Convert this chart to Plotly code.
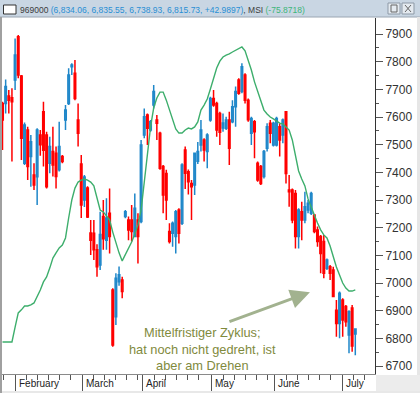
import plotly.graph_objects as go

# ---------------- data ----------------
opens = [7649, 7649, 7676, 7670, 7734, 7890, 7748, 7433, 7553, 7457,
         7390, 7384, 7535, 7619, 7535, 7433, 7475, 7469, 7409, 7457,
         7589, 7649, 7782, 7758, 7589, 7430, 7300, 7343, 7181, 7180,
         7120, 7065, 7240, 7155, 7252, 6975, 6878, 7005, 6969, 7240,
         7228, 7228, 7168, 7228, 7222, 7535, 7607, 7553, 7643, 7589,
         7541, 7421, 7396, 7186, 7180, 7168, 7264, 7216, 7481, 7402,
         7360, 7354, 7440, 7499, 7517, 7475, 7589, 7667, 7649, 7613,
         7560, 7559, 7589, 7583, 7637, 7734, 7692, 7752, 7661, 7541,
         7583, 7433, 7421, 7385, 7487, 7577, 7499, 7499, 7565, 7535,
         7619, 7336, 7336, 7324, 7168, 7258, 7228, 7264, 7252, 7246,
         7192, 7168, 7150, 7053, 7059, 7047, 6902, 6854, 6939, 6915,
         6812, 6910, 6834.06]
highs = [7655, 7736, 7698, 7704, 7884, 7896, 7752, 7580, 7565, 7535,
         7433, 7559, 7553, 7655, 7547, 7529, 7565, 7493, 7583, 7463,
         7643, 7776, 7794, 7806, 7649, 7463, 7390, 7350, 7228, 7228,
         7140, 7258, 7300, 7306, 7342, 6981, 7035, 7060, 7023, 7264,
         7240, 7282, 7324, 7252, 7517, 7631, 7613, 7589, 7716, 7607,
         7547, 7427, 7409, 7216, 7222, 7264, 7270, 7433, 7493, 7410,
         7372, 7469, 7510, 7589, 7523, 7541, 7673, 7698, 7655, 7619,
         7613, 7601, 7619, 7661, 7710, 7740, 7794, 7758, 7667, 7601,
         7589, 7439, 7427, 7481, 7577, 7589, 7583, 7601, 7577, 7595,
         7619, 7390, 7342, 7336, 7270, 7294, 7330, 7300, 7330, 7246,
         7204, 7174, 7174, 7089, 7065, 7059, 6939, 6969, 6945, 6921,
         6902, 6921, 6835.55]
lows = [7481, 7613, 7613, 7439, 7698, 7740, 7445, 7427, 7372, 7348,
        7336, 7282, 7460, 7421, 7342, 7397, 7385, 7342, 7403, 7433,
        7553, 7643, 7752, 7661, 7493, 7235, 7275, 7235, 7101, 7083,
        7023, 7047, 7120, 7120, 7107, 6770, 6848, 6990, 6945, 7234,
        7155, 7150, 7168, 7071, 7216, 7523, 7499, 7547, 7631, 7517,
        7409, 7252, 7228, 7143, 7131, 7107, 7143, 7210, 7340, 7320,
        7228, 7318, 7430, 7475, 7439, 7415, 7583, 7637, 7529, 7499,
        7547, 7553, 7427, 7577, 7565, 7680, 7686, 7649, 7583, 7499,
        7451, 7366, 7354, 7378, 7475, 7505, 7493, 7493, 7457, 7505,
        7360, 7276, 7216, 7125, 7125, 7155, 7216, 7252, 7246, 7180,
        7131, 7035, 7017, 7047, 7011, 6951, 6806, 6800, 6806, 6842,
        6746, 6752, 6738.93]
closes = [7589, 7710, 7661, 7655, 7824, 7752, 7523, 7571, 7421, 7511,
          7354, 7553, 7500, 7480, 7348, 7493, 7427, 7385, 7493, 7439,
          7625, 7752, 7788, 7667, 7541, 7282, 7383, 7239, 7155, 7120,
          7059, 7175, 7160, 7235, 7168, 6776, 7017, 7030, 7011, 7258,
          7192, 7186, 7270, 7168, 7499, 7601, 7559, 7583, 7692, 7577,
          7415, 7318, 7300, 7150, 7216, 7258, 7180, 7427, 7397, 7366,
          7348, 7469, 7475, 7553, 7481, 7535, 7667, 7643, 7553, 7545,
          7578, 7589, 7487, 7637, 7692, 7686, 7782, 7661, 7590, 7595,
          7547, 7372, 7360, 7475, 7565, 7541, 7577, 7595, 7517, 7589,
          7396, 7330, 7228, 7168, 7264, 7228, 7276, 7288, 7324, 7186,
          7150, 7107, 7035, 7083, 7035, 6951, 6854, 6963, 6866, 6860,
          6896, 6772.7403, 6815.73]
cycle = [6787, 6787, 6787, 6787, 6841, 6892, 6903, 6917, 6917, 6921,
         6928, 6950, 6975, 7004, 7022, 7054, 7090, 7109, 7127, 7137,
         7163, 7235, 7300, 7343, 7365, 7372, 7376, 7372, 7365, 7351,
         7307, 7264, 7257, 7242, 7228, 7184, 7145, 7109, 7080, 7101,
         7123, 7148, 7177, 7210, 7264, 7365, 7481, 7564, 7633, 7669,
         7690, 7690, 7661, 7629, 7589, 7557, 7542, 7542, 7553, 7560,
         7557, 7564, 7582, 7625, 7643, 7665, 7701, 7741, 7777, 7802,
         7817, 7824, 7828, 7835, 7842, 7849, 7853, 7839, 7806, 7770,
         7727, 7690, 7654, 7625, 7611, 7600, 7593, 7586, 7578, 7575,
         7564, 7553, 7517, 7459, 7405, 7376, 7351, 7304, 7271, 7246,
         7217, 7192, 7174, 7163, 7134, 7094, 7058, 7029, 7000, 6982,
         6971, 6971, 6975]
msi_value = -75.8718
symbol = "969000"

month_labels = ["February", "March", "April", "May", "June", "July"]
month_pos = [3.97, 25.24, 44.6, 66.5, 86.5, 107.8]
y_ticks = [6700, 6800, 6900, 7000, 7100, 7200, 7300, 7400, 7500, 7600, 7700, 7800, 7900]

note_text = "Mittelfristiger Zyklus;<br>hat noch nicht gedreht, ist<br>aber am Drehen"

# ---------------- layout geometry ----------------
W, H = 420, 393
ML, MR, MT, MB = 2, 45, 18, 19
PW, PH = W - ML - MR, H - MT - MB


def px(xp):
    return (xp - ML) / PW


def py(yp):
    return (H - MB - yp) / PH


idx = list(range(len(closes)))
prev = [opens[0]] + closes[:-1]
up = [c >= p for c, p in zip(closes, prev)]

BLUE = "#1f87c9"
RED = "#ff0000"

fig = go.Figure()
for flag, col, hollow in [(True, BLUE, "#9fd0f2"), (False, RED, "#ffffff")]:
    sel = [i for i in idx if up[i] == flag]
    fig.add_trace(go.Candlestick(
        x=sel,
        open=[opens[i] for i in sel], high=[highs[i] for i in sel],
        low=[lows[i] for i in sel], close=[closes[i] for i in sel],
        increasing=dict(line=dict(color=col, width=1.5), fillcolor=hollow),
        decreasing=dict(line=dict(color=col, width=1.5), fillcolor=col),
        whiskerwidth=0, showlegend=False, hoverinfo="skip",
    ))

fig.add_trace(go.Scatter(x=idx, y=cycle, mode="lines",
                         line=dict(color="#3dae6c", width=1.4),
                         showlegend=False, hoverinfo="skip"))

# minor x ticks between month starts
minor_x = []
bounds = [month_pos[0] - 3.55] + month_pos + [month_pos[-1] + 12]
for k in range(len(month_pos)):
    a, b = month_pos[k], bounds[k + 2]
    t = a + 3.55
    while t < b - 1.5:
        minor_x.append(round(t, 2))
        t += 3.55
minor_x.append(round(month_pos[0] - 3.55, 2))

x_lo = -0.5 / 3.15
x_hi = (W - MR - 2.5) / 3.15
y_top = 7900 + (34 - MT) * 3.614
y_bot = 7900 - (H - MB - 34) * 3.614

fig.update_layout(
    width=W, height=H,
    margin=dict(l=ML, r=MR, t=MT, b=MB),
    paper_bgcolor="white", plot_bgcolor="white",
    font=dict(family="Liberation Sans, Arial, sans-serif", color="#333333"),
    xaxis=dict(range=[x_lo, x_hi], rangeslider=dict(visible=False),
               showgrid=False, zeroline=False, showticklabels=False,
               tickmode="array", tickvals=month_pos, ticks="outside",
               ticklen=18, tickcolor="#555555", tickwidth=1,
               showline=True, linecolor="#8a8a8a", linewidth=1,
               minor=dict(tickmode="array", tickvals=minor_x, ticks="outside",
                          ticklen=5, tickcolor="#555555", tickwidth=1)),
    yaxis=dict(side="right", range=[y_bot, y_top], showgrid=False,
               zeroline=False, tickmode="array", tickvals=y_ticks,
               ticks="outside", ticklen=7, tickcolor="#555555",
               showline=True, linecolor="#333333", linewidth=1,
               tickfont=dict(size=12, color="#333333"),
               minor=dict(tickmode="array",
                          tickvals=[v + 50 for v in y_ticks[:-1]],
                          ticks="outside", ticklen=3, tickcolor="#555555")),
)

shapes = []
# title bar
shapes.append(dict(type="rect", xref="paper", yref="paper", x0=px(0), x1=px(W),
                   y0=py(17), y1=py(0), fillcolor="#c9d6e3", line_width=0, layer="above"))
shapes.append(dict(type="line", xref="paper", yref="paper", x0=px(0), x1=px(W),
                   y0=py(17), y1=py(17), line=dict(color="#9aa6b2", width=1)))
# left frame bar
shapes.append(dict(type="rect", xref="paper", yref="paper", x0=px(0), x1=px(2),
                   y0=py(H), y1=py(17), fillcolor="#a0a0a0", line_width=0))
# right edge strip and bottom-right corner
shapes.append(dict(type="rect", xref="paper", yref="paper", x0=px(417), x1=px(W),
                   y0=py(H), y1=py(17), fillcolor="#e6e6e6", line_width=0))
shapes.append(dict(type="rect", xref="paper", yref="paper", x0=px(376), x1=px(W),
                   y0=py(H), y1=py(375), fillcolor="#ececec", line_width=0))
shapes.append(dict(type="rect", xref="paper", yref="paper", x0=px(2), x1=px(W),
                   y0=py(H), y1=py(391), fillcolor="#e8e8e8", line_width=0))
# icon box in title bar
shapes.append(dict(type="rect", xref="paper", yref="paper", x0=px(3.5), x1=px(16),
                   y0=py(14), y1=py(5), fillcolor="white",
                   line=dict(color="#333333", width=1)))
# window buttons
for bx in (388, 402):
    shapes.append(dict(type="rect", xref="paper", yref="paper", x0=px(bx), x1=px(bx + 12),
                       y0=py(14), y1=py(3), fillcolor="#e4eaf0",
                       line=dict(color="#8d99a6", width=1)))
shapes.append(dict(type="rect", xref="paper", yref="paper", x0=px(391), x1=px(397),
                   y0=py(12), y1=py(5), fillcolor="rgba(0,0,0,0)",
                   line=dict(color="#666666", width=1)))
shapes.append(dict(type="line", xref="paper", yref="paper", x0=px(405), x1=px(411),
                   y0=py(12), y1=py(5), line=dict(color="#666666", width=1)))
shapes.append(dict(type="line", xref="paper", yref="paper", x0=px(405), x1=px(411),
                   y0=py(5), y1=py(12), line=dict(color="#666666", width=1)))
fig.update_layout(shapes=shapes)

chg = closes[-1] - closes[-2]
title_html = (
    f"<span style='color:#3c3c3c'>{symbol} </span>"
    f"<span style='color:#2a8fd4'>({opens[-1]:,.2f}, {highs[-1]:,.2f}, "
    f"{lows[-1]:,.2f}, {closes[-1]:,.2f}, {chg:+.4f})</span>"
    f"<span style='color:#3c3c3c'>, MSI </span>"
    f"<span style='color:#3db57a'>({msi_value:.4f})</span>"
)
ann = [dict(text=title_html, xref="paper", yref="paper", x=px(17.5), y=py(9.5),
            xanchor="left", yanchor="middle", showarrow=False,
            font=dict(size=8.5, family="Liberation Sans, Arial, sans-serif"))]

for lab, pos in zip(month_labels, month_pos):
    ann.append(dict(text=lab, xref="x", yref="paper", x=pos, y=py(383.5),
                    xanchor="left", yanchor="middle", xshift=1.5, showarrow=False,
                    font=dict(size=10, color="#222222")))

ann.append(dict(text=note_text, xref="paper", yref="paper", x=px(202), y=py(349),
                xanchor="center", yanchor="middle", align="center", showarrow=False,
                font=dict(size=12.8, color="#7f8a3d")))

arrow_tip_x, arrow_tip_y = 97.6, 6967
ann.append(dict(text="", xref="x", yref="y", x=arrow_tip_x, y=arrow_tip_y,
                ax=-82, ay=30, showarrow=True, arrowhead=2, arrowsize=1.3,
                arrowwidth=3, arrowcolor="#a2b28f", standoff=0))
fig.update_layout(annotations=ann)

fig.write_html("out.html",
               config={"displayModeBar": False, "staticPlot": True},
               post_script="document.body.style.margin='0';"
                           "document.body.style.overflow='hidden';")
